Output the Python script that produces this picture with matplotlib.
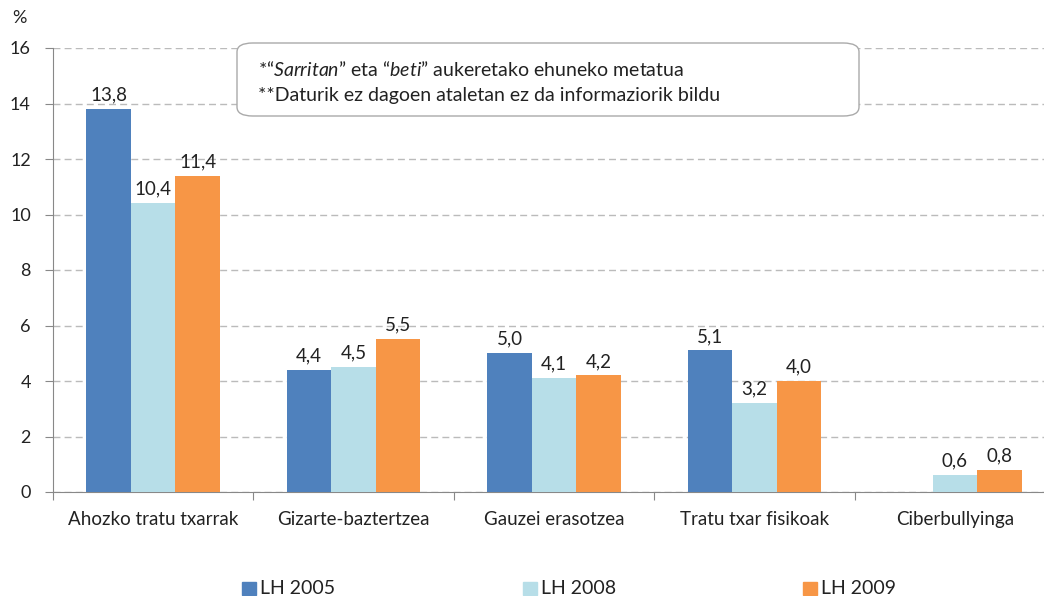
import matplotlib
matplotlib.use("Agg")
import matplotlib.pyplot as plt
import numpy as np
from matplotlib.patches import FancyBboxPatch

categories = ["Ahozko tratu txarrak", "Gizarte-baztertzea", "Gauzei erasotzea",
              "Tratu txar fisikoak", "Ciberbullyinga"]
series_names = ["LH 2005", "LH 2008", "LH 2009"]
lh2005 = [13.8, 4.4, 5.0, 5.1, None]
lh2008 = [10.4, 4.5, 4.1, 3.2, 0.6]
lh2009 = [11.4, 5.5, 4.2, 4.0, 0.8]
colors = ["#4F81BD", "#B7DEE8", "#F79646"]
yticks = [0, 2, 4, 6, 8, 10, 12, 14, 16]

plt.rcParams['font.family'] = ['Lato', 'DejaVu Sans']
plt.rcParams['mathtext.fontset'] = 'custom'
plt.rcParams['mathtext.rm'] = 'Lato'
plt.rcParams['mathtext.it'] = 'Lato:italic'

TXT = '#222222'
W, H = 1044, 596
fig = plt.figure(figsize=(W/100, H/100), dpi=100)
left, right, bottom, top = 53, 1055, 492, 48
ax = fig.add_axes([left/W, 1-bottom/H, (right-left)/W, (bottom-top)/H])

x = np.arange(len(categories))
bw = 0.222
series = [lh2005, lh2008, lh2009]
for i, (vals, c, name) in enumerate(zip(series, colors, series_names)):
    xs = x + (i-1)*bw
    for xi, v in zip(xs, vals):
        if v is None:
            continue
        ax.bar(xi, v, width=bw, color=c, edgecolor='none', zorder=3)
        ax.text(xi, v + 0.2, f"{v:.1f}".replace('.', ','), ha='center', va='bottom',
                fontsize=13.5, color=TXT, zorder=4)

ax.set_xlim(-0.5, len(categories)-0.5)
ax.set_ylim(0, 16)
ax.set_yticks(yticks)
ax.set_yticklabels([str(t) for t in yticks], fontsize=13, color=TXT)
ax.yaxis.grid(True, linestyle=(0, (5, 3)), color='#BBBBBB', linewidth=1, zorder=0)
ax.set_axisbelow(True)
ax.set_xticks(np.arange(len(categories)+1) - 0.5)
ax.set_xticklabels([])
ax.set_xticks(x, minor=True)
ax.set_xticklabels(categories, minor=True, fontsize=13.5, color=TXT)
ax.tick_params(axis='x', which='minor', length=0, pad=14)
ax.tick_params(axis='x', which='major', length=6, color='#888888', direction='out')
ax.tick_params(axis='y', length=6, color='#888888', direction='out', pad=10)
for s in ['top', 'right']:
    ax.spines[s].set_visible(False)
for s in ['left', 'bottom']:
    ax.spines[s].set_color('#888888')

fig.text(12/W, 1-18/H, "%", fontsize=13, ha='left', va='center', color=TXT)

# annotation box
bx0, by0, bx1, by1 = 237, 43, 859, 116
box = FancyBboxPatch((bx0/W, 1-by1/H), (bx1-bx0)/W, (by1-by0)/H,
                     boxstyle="round,pad=0,rounding_size=0.015",
                     transform=fig.transFigure, facecolor='white',
                     edgecolor='#AAAAAA', linewidth=1, zorder=5)
fig.patches.append(box)
fig.text(258/W, 1-70/H, '$\\it{*“Sarritan”}$ eta $\\it{“beti”}$ aukeretako ehuneko metatua',
         fontsize=14, va='center', ha='left', color=TXT, zorder=6)
fig.text(258/W, 1-95/H, "**Daturik ez dagoen ataletan ez da informaziorik bildu",
         fontsize=14, va='center', ha='left', color=TXT, zorder=6)

# legend
leg_x = [242, 523, 803]
for lx, c, name in zip(leg_x, colors, series_names):
    fig.patches.append(plt.Rectangle((lx/W, 1-595/H), 14/W, 13/H,
                                     transform=fig.transFigure, color=c))
    fig.text((lx+18)/W, 1-588/H, name, fontsize=14, va='center', ha='left', color=TXT)

fig.savefig("out.png", dpi=100)
